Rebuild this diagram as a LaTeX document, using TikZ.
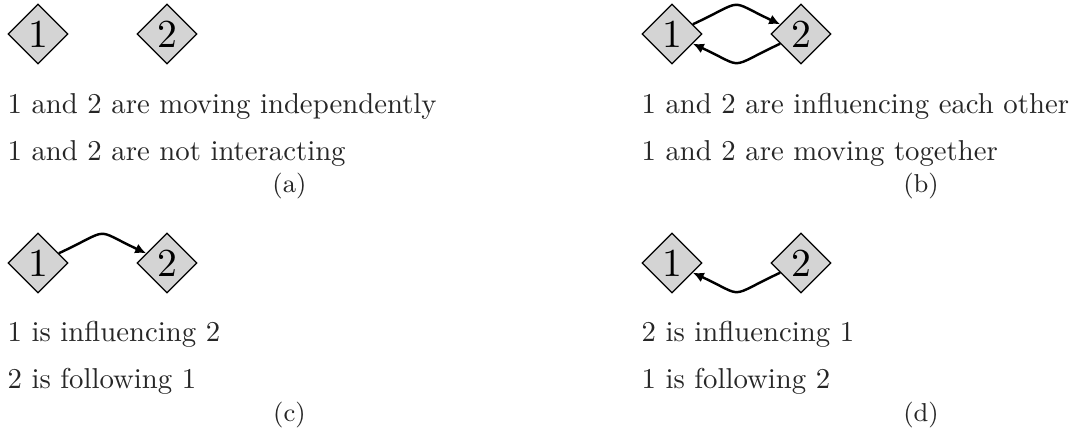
\documentclass[tikz,border=0pt]{standalone}
\usepackage{fontspec}
\setmainfont{Latin Modern Roman}
\newfontfamily\digitfont{lmroman10-regular}[Extension=.otf]
\usetikzlibrary{shapes.geometric,arrows.meta}
\begin{document}
\begin{tikzpicture}[x=0.3478pt,y=-0.3478pt,
  agent/.style={shape=diamond,draw=black,line width=0.4pt,fill=black!17,
    minimum width=20.87pt,minimum height=20.87pt,inner sep=0pt,
    font=\digitfont\fontsize{13.8}{16}\selectfont},
  desc/.style={anchor=base west,inner sep=0pt,text=black!85,font=\fontsize{10}{12}\selectfont},
  subcap/.style={anchor=base,inner sep=0pt,text=black!85,font=\fontsize{9}{11}\selectfont},
  arr/.style={-{Latex[length=3.8pt,width=3.6pt]},line width=0.85pt,bend left=25,looseness=1.75}]
\useasboundingbox (0,0) rectangle (1076,435);
% (a)
\node[agent] (a1) at (38,34) {1};
\node[agent] (a2) at (167,34) {2};
\node[desc] (ta1) at (7,114) {1 and 2 are moving independently};
\node[desc] (ta2) at (7,161) {1 and 2 are not interacting};
\node[subcap] (ca) at (289.5,193) {(a)};
% (b)
\node[agent] (b1) at (672,34) {1};
\node[agent] (b2) at (801,34) {2};
\draw[arr] (b1) to (b2);
\draw[arr] (b2) to (b1);
\node[desc] (tb1) at (641,114) {1 and 2 are influencing each other};
\node[desc] (tb2) at (641,161) {1 and 2 are moving together};
\node[subcap] (cb) at (921,193) {(b)};
% (c)
\node[agent] (c1) at (38,263) {1};
\node[agent] (c2) at (167,263) {2};
\draw[arr] (c1) to (c2);
\node[desc] (tc1) at (7,342) {1 is influencing 2};
\node[desc] (tc2) at (7,389) {2 is following 1};
\node[subcap] (cc) at (289.5,422) {(c)};
% (d)
\node[agent] (d1) at (672,263) {1};
\node[agent] (d2) at (801,263) {2};
\draw[arr] (d2) to (d1);
\node[desc] (td1) at (641,342) {2 is influencing 1};
\node[desc] (td2) at (641,389) {1 is following 2};
\node[subcap] (cd) at (921,422) {(d)};
\end{tikzpicture}
\end{document}
